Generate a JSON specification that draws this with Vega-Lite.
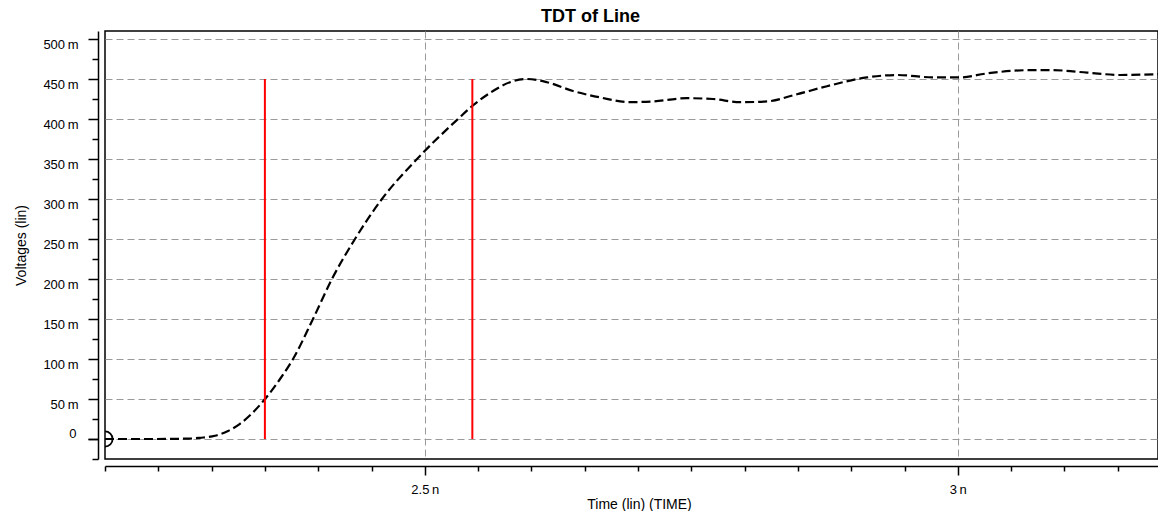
{
  "$schema": "https://vega.github.io/schema/vega-lite/v6.json",
  "autosize": {"type": "none"},
  "padding": {"left": 105, "top": 31, "right": 0, "bottom": 52},
  "width": 1053,
  "height": 428,
  "background": "white",
  "config": {
    "font": "Liberation Sans",
    "view": {"stroke": "black", "strokeWidth": 1.5}
  },
  "title": {
    "text": "TDT of Line",
    "fontSize": 18,
    "fontWeight": "bold",
    "font": "Liberation Sans",
    "color": "black",
    "anchor": "middle",
    "frame": "group",
    "dx": -41,
    "offset": -13,
    "baseline": "bottom"
  },
  "datasets": {
    "curve": [
      {"t": 2.2, "v": 0},
      {"t": 2.24, "v": 0},
      {"t": 2.2797, "v": 0.5},
      {"t": 2.2891, "v": 1.5},
      {"t": 2.3032, "v": 4},
      {"t": 2.3154, "v": 10},
      {"t": 2.3266, "v": 19},
      {"t": 2.3379, "v": 32},
      {"t": 2.3501, "v": 50},
      {"t": 2.3642, "v": 75},
      {"t": 2.3764, "v": 100},
      {"t": 2.3951, "v": 150},
      {"t": 2.4129, "v": 200},
      {"t": 2.4345, "v": 250},
      {"t": 2.4598, "v": 300},
      {"t": 2.4927, "v": 350},
      {"t": 2.5311, "v": 400},
      {"t": 2.5443, "v": 416},
      {"t": 2.564, "v": 435},
      {"t": 2.5799, "v": 446},
      {"t": 2.5959, "v": 450},
      {"t": 2.6146, "v": 446},
      {"t": 2.639, "v": 435},
      {"t": 2.6644, "v": 427},
      {"t": 2.6925, "v": 421},
      {"t": 2.7141, "v": 422},
      {"t": 2.746, "v": 426},
      {"t": 2.7704, "v": 425},
      {"t": 2.7957, "v": 421},
      {"t": 2.821, "v": 422},
      {"t": 2.8492, "v": 431},
      {"t": 2.8773, "v": 441},
      {"t": 2.9148, "v": 452},
      {"t": 2.943, "v": 455},
      {"t": 2.9767, "v": 452},
      {"t": 3.0021, "v": 452},
      {"t": 3.0274, "v": 457},
      {"t": 3.0649, "v": 461},
      {"t": 3.0893, "v": 461},
      {"t": 3.1212, "v": 458},
      {"t": 3.1522, "v": 455},
      {"t": 3.1878, "v": 456}
    ],
    "markers": [
      {"t": 2.35, "v0": 0, "v1": 450},
      {"t": 2.5446, "v0": 0, "v1": 450}
    ],
    "start": [
      {"t": 2.2, "v": 0}
    ]
  },
  "resolve": {"axis": {"y": "independent"}},
  "layer": [
    {
      "data": {"name": "curve"},
      "mark": {"type": "line", "color": "black", "strokeWidth": 2.2, "strokeDash": [9, 4], "interpolate": "monotone", "clip": true},
      "encoding": {
        "x": {
          "field": "t",
          "type": "quantitative",
          "scale": {"domain": [2.2, 3.1878], "nice": false, "zero": false},
          "axis": {
            "values": [2.2, 2.25, 2.3, 2.35, 2.4, 2.45, 2.5, 2.55, 2.6, 2.65, 2.7, 2.75, 2.8, 2.85, 2.9, 2.95, 3, 3.05, 3.1, 3.15],
            "labelExpr": "datum.value == 2.5 ? '2.5\u2009n' : (datum.value == 3 ? '3\u2009n' : '')",
            "offset": 7,
            "domainColor": "black",
            "domainWidth": 1.5,
            "tickColor": "black",
            "tickWidth": 1.5,
            "tickSize": {"condition": {"test": "datum.value == 2.5 || datum.value == 3", "value": 9}, "value": 5},
            "grid": true,
            "gridColor": "#9a9a9a",
            "gridDash": [7, 4],
            "gridWidth": 1,
            "gridOpacity": {"condition": {"test": "datum.value == 2.5 || datum.value == 3", "value": 1}, "value": 0},
            "labelFontSize": 13,
            "labelColor": "black",
            "labelPadding": 8,
            "labelFlush": false,
            "labelOverlap": false,
            "title": "Time (lin) (TIME)",
            "titleFontSize": 14,
            "titleFontWeight": "normal",
            "titleColor": "black",
            "titlePadding": 1,
            "titleX": 534,
            "titleAlign": "center"
          }
        },
        "y": {
          "field": "v",
          "type": "quantitative",
          "scale": {"domain": [-25, 510], "nice": false, "zero": false},
          "axis": {
            "orient": "left",
            "values": [0, 50, 100, 150, 200, 250, 300, 350, 400, 450, 500],
            "labelExpr": "datum.value == 0 ? '' : datum.value + '\u2009m'",
            "offset": 7,
            "domainColor": "black",
            "domainWidth": 1.5,
            "tickColor": "black",
            "tickWidth": 1.5,
            "tickSize": 10,
            "grid": true,
            "gridColor": "#9a9a9a",
            "gridDash": [7, 4],
            "gridWidth": 1,
            "labelFontSize": 13,
            "labelColor": "black",
            "labelPadding": 10,
            "labelBaseline": "top",
            "labelOffset": -1,
            "labelFlush": false,
            "labelOverlap": false,
            "title": "Voltages (lin)",
            "titleFontSize": 14,
            "titleFontWeight": "normal",
            "titleColor": "black",
            "titlePadding": 14
          }
        }
      }
    },
    {
      "data": {"name": "markers"},
      "mark": {"type": "rule", "color": "#ff0000", "strokeWidth": 2},
      "encoding": {
        "x": {"field": "t", "type": "quantitative"},
        "y": {
          "field": "v0",
          "type": "quantitative",
          "axis": {
            "orient": "left",
            "values": [-25, 25, 75, 125, 175, 225, 275, 325, 375, 425, 475],
            "offset": 7,
            "domain": false,
            "labels": false,
            "grid": false,
            "tickColor": "black",
            "tickWidth": 1.5,
            "tickSize": 6,
            "title": null
          }
        },
        "y2": {"field": "v1"}
      }
    },
    {
      "data": {"name": "start"},
      "mark": {"type": "point", "shape": "circle", "filled": false, "size": 230, "color": "black", "strokeWidth": 1.8, "opacity": 1, "clip": true},
      "encoding": {
        "x": {"field": "t", "type": "quantitative"},
        "y": {
          "field": "v",
          "type": "quantitative",
          "axis": {
            "orient": "left",
            "values": [0],
            "labelExpr": "'0'",
            "offset": 7,
            "domain": false,
            "grid": false,
            "ticks": true,
            "tickColor": "black",
            "tickWidth": 1.5,
            "tickSize": 10,
            "labelFontSize": 13,
            "labelColor": "black",
            "labelPadding": 12,
            "labelBaseline": "bottom",
            "labelOffset": 1,
            "labelFlush": false,
            "labelOverlap": false,
            "title": null
          }
        }
      }
    }
  ]
}
